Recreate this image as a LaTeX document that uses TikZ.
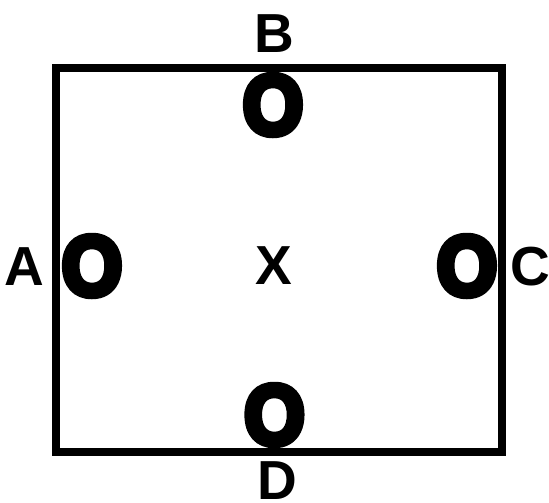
\documentclass[tikz,border=0pt]{standalone}
\usepackage{fontspec}
\setmainfont{Liberation Sans}
\newcommand{\heavyO}{\special{pdf:code q 2 Tr 7 w 1 j}O\special{pdf:code Q}}
\tikzset{
  lbl/.style={font=\fontsize{55}{55}\selectfont\bfseries, inner sep=0pt, anchor=base},
  bigo/.style={font=\fontsize{84}{84}\selectfont\bfseries, inner sep=0pt, xscale=0.92},
  frame/.style={line width=8pt}
}
\begin{document}
\begin{tikzpicture}[x=1pt,y=-1pt]
\useasboundingbox (0,0) rectangle (549,503);
\draw[frame] (55.5,68) rectangle (502,451.5);
\node[bigo] (ob) at (273,105) {\heavyO};
\node[bigo] (oa) at (92,266) {\heavyO};
\node[bigo] (oc) at (467,266) {\heavyO};
\node[bigo] (od) at (274.5,415) {\heavyO};
\node[lbl] (b) at (274,53) {B};
\node[lbl] (a) at (24.5,285) {A};
\node[lbl] (x) at (274,284) {X};
\node[lbl] (c) at (530,285) {C};
\node[lbl] (d) at (277.5,499) {D};
\end{tikzpicture}
\end{document}
